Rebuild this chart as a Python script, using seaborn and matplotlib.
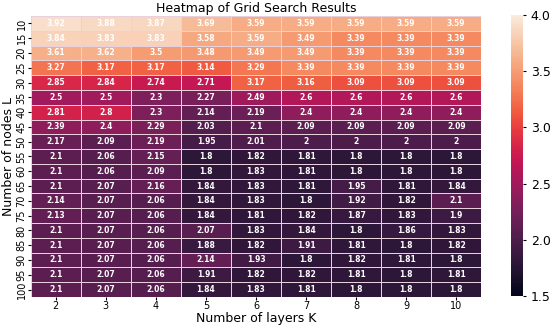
import numpy as np
import pandas as pd
import matplotlib
matplotlib.use("Agg")
import matplotlib.pyplot as plt
import seaborn as sns

layers = [2, 3, 4, 5, 6, 7, 8, 9, 10]
nodes = [10, 15, 20, 25, 30, 35, 40, 45, 50, 55, 60, 65, 70, 75, 80, 85, 90, 95, 100]

# grid search loss, one row per number of nodes
scores = [
    [3.92, 3.88, 3.87, 3.69, 3.59, 3.59, 3.59, 3.59, 3.59],
    [3.84, 3.83, 3.83, 3.58, 3.59, 3.49, 3.39, 3.39, 3.39],
    [3.61, 3.62, 3.5, 3.48, 3.49, 3.49, 3.39, 3.39, 3.39],
    [3.27, 3.17, 3.17, 3.14, 3.29, 3.39, 3.39, 3.39, 3.39],
    [2.85, 2.84, 2.74, 2.71, 3.17, 3.16, 3.09, 3.09, 3.09],
    [2.5, 2.5, 2.3, 2.27, 2.49, 2.6, 2.6, 2.6, 2.6],
    [2.81, 2.8, 2.3, 2.14, 2.19, 2.4, 2.4, 2.4, 2.4],
    [2.39, 2.4, 2.29, 2.03, 2.1, 2.09, 2.09, 2.09, 2.09],
    [2.17, 2.09, 2.19, 1.95, 2.01, 2, 2, 2, 2],
    [2.1, 2.06, 2.15, 1.8, 1.82, 1.81, 1.8, 1.8, 1.8],
    [2.1, 2.06, 2.09, 1.8, 1.83, 1.81, 1.8, 1.8, 1.8],
    [2.1, 2.07, 2.16, 1.84, 1.83, 1.81, 1.95, 1.81, 1.84],
    [2.14, 2.07, 2.06, 1.84, 1.83, 1.8, 1.92, 1.82, 2.1],
    [2.13, 2.07, 2.06, 1.84, 1.81, 1.82, 1.87, 1.83, 1.9],
    [2.1, 2.07, 2.06, 2.07, 1.83, 1.84, 1.8, 1.86, 1.83],
    [2.1, 2.07, 2.06, 1.88, 1.82, 1.91, 1.81, 1.8, 1.82],
    [2.1, 2.07, 2.06, 2.14, 1.93, 1.8, 1.82, 1.81, 1.8],
    [2.1, 2.07, 2.06, 1.91, 1.82, 1.82, 1.81, 1.8, 1.81],
    [2.1, 2.07, 2.06, 1.84, 1.83, 1.81, 1.8, 1.8, 1.8],
]

df = pd.DataFrame(scores, index=nodes, columns=layers)

fig = plt.figure(figsize=(5.5, 3.27), dpi=100)
ax = fig.add_axes([0.056, 0.092, 0.819, 0.859])
cax = fig.add_axes([0.929, 0.095, 0.022, 0.859])

sns.heatmap(df, ax=ax, cbar_ax=cax, cmap="rocket", vmin=1.5, vmax=4.0,
            annot=True, fmt="g", linewidths=0.5, linecolor="#e8d0dc",
            annot_kws={"fontsize": 5.5, "fontweight": "bold", "color": "white"})

ax.set_title("Heatmap of Grid Search Results", fontsize=9, pad=3)
ax.set_xlabel("Number of layers K", fontsize=9, labelpad=1)
ax.set_ylabel("Number of nodes L", fontsize=9, labelpad=1)
ax.tick_params(axis="both", labelsize=7, length=2, pad=1)
plt.setp(ax.get_yticklabels(), rotation=90, va="center")
cax.tick_params(labelsize=9, length=2)
cax.set_yticks([1.5, 2.0, 2.5, 3.0, 3.5, 4.0])

fig.savefig("out.png", dpi=100)
